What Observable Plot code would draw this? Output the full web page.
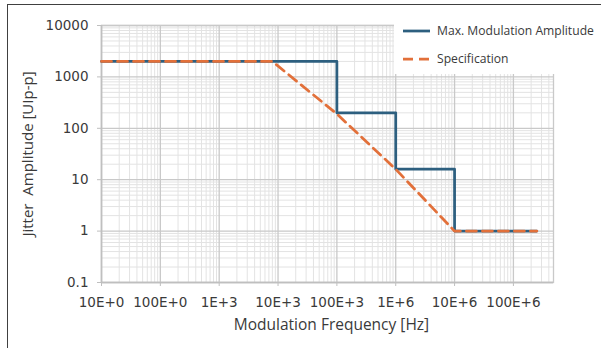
<!DOCTYPE html>
<html>
<head>
<meta charset="utf-8">
<script src="https://cdn.jsdelivr.net/npm/d3@7"></script>
<script src="https://cdn.jsdelivr.net/npm/@observablehq/plot@0.6"></script>
<style>
  html, body { margin: 0; padding: 0; background: #fff; }
  #wrap { position: relative; width: 601px; height: 348px; overflow: hidden; }
  #frame { position: absolute; left: 7px; top: 4px; width: 620px; height: 400px;
           border-top: 1.5px solid #404040; border-left: 1.5px solid #404040; }
  #chart { position: absolute; left: 0; top: 0; }
  #legend { position: absolute; left: 394px; top: 12px; }
</style>
</head>
<body>
<div id="wrap">
  <div id="frame"></div>
  <div id="chart"></div>
  <svg id="legend" width="207" height="62"></svg>
</div>
<script>
// ---- data ----
const xTickValues = [10, 100, 1e3, 1e4, 1e5, 1e6, 1e7, 1e8];
const xTickLabels = ["10E+0", "100E+0", "1E+3", "10E+3", "100E+3", "1E+6", "10E+6", "100E+6"];
const yTickValues = [0.1, 1, 10, 100, 1000, 10000];
const yTickLabels = ["0.1", "1", "10", "100", "1000", "10000"];

const seriesNames = ["Max. Modulation Amplitude", "Specification"];

const maxFreq = [10, 1e5, 1e6, 1e7, 2.5e8];
const maxAmp  = [2000, 200, 16, 1, 1];

const specFreq = [10, 8000, 1e5, 1e6, 1e7, 2.5e8];
const specAmp  = [2000, 2000, 190, 16, 1, 1];

const xDomain = [10, 4.8e8];
const yDomain = [0.1, 10000];

const xTitle = "Modulation Frequency [Hz]";
const yTitle = "Jitter  Amplitude [UIp-p]";

// ---- derived ----
const maxData = maxFreq.map((f, i) => ({f, a: maxAmp[i]}));
const specData = specFreq.map((f, i) => ({f, a: specAmp[i]}));
const xLabelMap = new Map(xTickValues.map((v, i) => [v, xTickLabels[i]]));
const yLabelMap = new Map(yTickValues.map((v, i) => [v, yTickLabels[i]]));

function minorTicks([lo, hi]) {
  const out = [];
  for (let k = Math.floor(Math.log10(lo)); k <= Math.ceil(Math.log10(hi)); k++) {
    for (let m = 2; m <= 9; m++) {
      const v = m * Math.pow(10, k);
      if (v > lo && v < hi) out.push(v);
    }
  }
  return out;
}
const xMinor = minorTicks(xDomain);
const yMinor = minorTicks(yDomain);

const BLUE = "#2d5f7f";
const ORANGE = "#e2703a";
const MINOR = "#e3e3e3";
const MAJOR = "#c9c9c9";
const AXIS = "#bfbfbf";
const TEXT = "#3a3a3a";

const chart = Plot.plot({
  width: 601,
  height: 348,
  marginLeft: 101,
  marginRight: 48,
  marginTop: 25,
  marginBottom: 66,
  style: {fontFamily: "DejaVu Sans", fontSize: "13.5px", color: TEXT, background: "transparent"},
  x: {type: "log", domain: xDomain},
  y: {type: "log", domain: yDomain},
  marks: [
    Plot.ruleX(xMinor, {stroke: MINOR, strokeWidth: 1}),
    Plot.ruleY(yMinor, {stroke: MINOR, strokeWidth: 1}),
    Plot.ruleX(xTickValues, {stroke: MAJOR, strokeWidth: 1.3}),
    Plot.ruleY(yTickValues, {stroke: MAJOR, strokeWidth: 1.3}),
    Plot.frame({stroke: MAJOR, strokeWidth: 1.3}),
    Plot.ruleX([xDomain[0]], {stroke: AXIS, strokeWidth: 1.5}),
    Plot.ruleY([yDomain[0]], {stroke: AXIS, strokeWidth: 1.5}),
    Plot.axisX(xTickValues, {tickFormat: d => xLabelMap.get(d), tickSize: 4, tickPadding: 11, stroke: AXIS, fill: TEXT, label: null}),
    Plot.axisY(yTickValues, {tickFormat: d => yLabelMap.get(d), tickSize: 4, tickPadding: 9, stroke: AXIS, fill: TEXT, label: null}),
    Plot.line(maxData, {x: "f", y: "a", curve: "step-after", stroke: BLUE, strokeWidth: 2.75}),
    Plot.line(specData, {x: "f", y: "a", stroke: ORANGE, strokeWidth: 2.75, strokeDasharray: "10,6"}),
    Plot.text([xTitle], {frameAnchor: "bottom", dy: 47, dx: 4, fontFamily: "Open Sans", fontSize: 15.5, fill: TEXT}),
    Plot.text([yTitle], {frameAnchor: "left", textAnchor: "middle", dx: -73, rotate: -90, fontFamily: "Open Sans", fontSize: 15, fill: TEXT})
  ]
});
document.getElementById("chart").appendChild(chart);

// ---- legend ----
const lg = d3.select("#legend");
lg.append("rect").attr("width", 207).attr("height", 62).attr("fill", "#fff");
const items = [
  {name: seriesNames[0], color: BLUE, dash: null, y: 19},
  {name: seriesNames[1], color: ORANGE, dash: "10,6", y: 47}
];
const texts = items.map(it => {
  lg.append("line").attr("x1", 9).attr("x2", 36).attr("y1", it.y).attr("y2", it.y)
    .attr("stroke", it.color).attr("stroke-width", 2.75).attr("stroke-dasharray", it.dash);
  return lg.append("text").attr("x", 43).attr("y", it.y).attr("dy", "0.35em")
    .attr("font-family", "Open Sans").attr("font-size", 13).attr("fill", TEXT).text(it.name);
});
// fit the first legend entry into the space the reference uses
const w = texts[0].node().getComputedTextLength();
if (w > 0) {
  const fs = Math.min(14, 13 * 157 / w);
  texts.forEach(t => t.attr("font-size", fs));
}
</script>
</body>
</html>
